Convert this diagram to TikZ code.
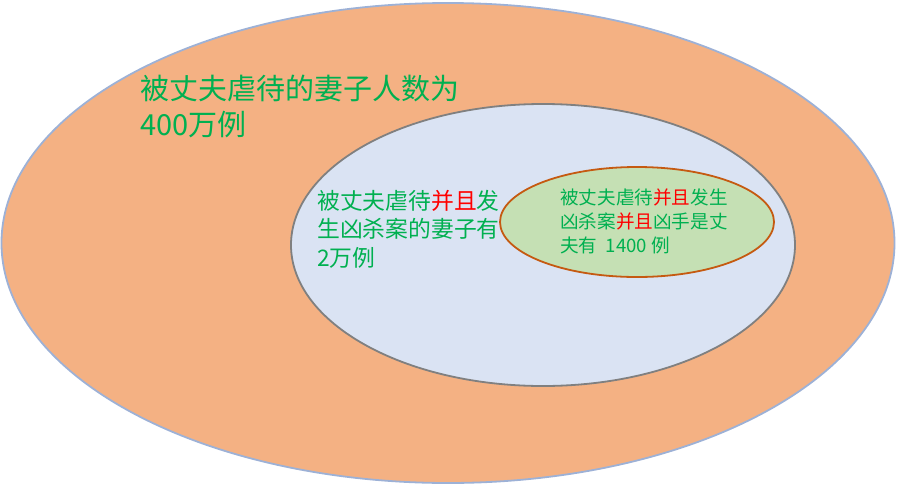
\documentclass[tikz,border=0pt]{standalone}
\usepackage{fontspec}
\newfontfamily\cjk{Noto Sans CJK SC}
\definecolor{vorange}{RGB}{244,177,131}
\definecolor{vorangeline}{RGB}{157,177,214}
\definecolor{vblue}{RGB}{218,227,243}
\definecolor{vgray}{RGB}{128,128,128}
\definecolor{vgreen}{RGB}{197,224,180}
\definecolor{vbrown}{RGB}{197,90,17}
\definecolor{vtext}{RGB}{0,176,80}
\definecolor{vred}{RGB}{255,0,0}
\usetikzlibrary{shapes.geometric}

\begin{document}
\begin{tikzpicture}[x=1pt, y=-1pt,
    setbox/.style={ellipse, inner sep=0pt, line width=1.8pt},
    settext/.style={anchor=west, align=left, inner sep=0pt, text=vtext}
  ]
    \useasboundingbox (0,0) rectangle (897,485);

    \node[setbox, fill=vorange, draw=vorangeline, minimum width=893pt, minimum height=480pt] (all) at (448,243) {};
    \node[setbox, fill=vblue, draw=vgray, minimum width=504pt, minimum height=282pt] (kill) at (543,245) {};
    \node[setbox, fill=vgreen, draw=vbrown, minimum width=274pt, minimum height=110pt] (husband) at (637,222) {};

    % set labels
    \node[settext, font=\cjk\fontsize{29}{36}\selectfont] (lall) at (140,106) {被丈夫虐待的妻子人数为\\400万例};
    \node[settext, font=\cjk\fontsize{22.8}{28.5}\selectfont] (lkill) at (317,229) {被丈夫虐待\textcolor{vred}{并且}发\\生凶杀案的妻子有\\2万例};
    \node[settext, font=\cjk\fontsize{18.6}{24}\selectfont] (lhusband) at (560,221) {被丈夫虐待\textcolor{vred}{并且}发生\\凶杀案\textcolor{vred}{并且}凶手是丈\\夫有\ \ 1400 例};
  \end{tikzpicture}
\end{document}
